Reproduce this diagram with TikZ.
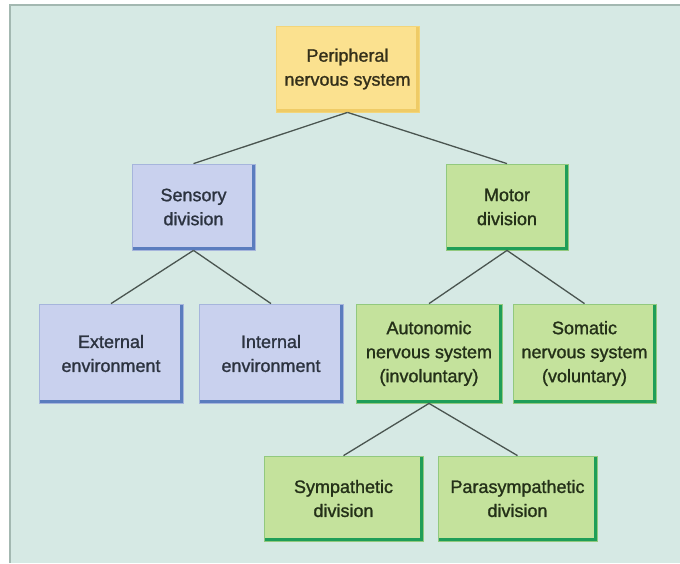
\documentclass[tikz,border=0pt]{standalone}
\usepackage{fontspec}
\setmainfont{Liberation Sans}
\newfontfamily\boxfont{Liberation Sans}[FakeBold=1.3]
\definecolor{bgc}{HTML}{D6E9E4}
\definecolor{frame}{HTML}{A3B8B1}
\definecolor{yfill}{HTML}{FBE18F}
\definecolor{yshad}{HTML}{EFCB66}
\definecolor{yedge}{HTML}{F3D579}
\definecolor{bfill}{HTML}{C9D1EE}
\definecolor{bshad}{HTML}{5B7DBE}
\definecolor{bedge}{HTML}{A6B5DC}
\definecolor{gfill}{HTML}{C4E29C}
\definecolor{gshad}{HTML}{1F9E58}
\definecolor{gedge}{HTML}{92C97E}
\definecolor{btext}{HTML}{2C3340}
\definecolor{gtext}{HTML}{243018}
\definecolor{ytext}{HTML}{342F1A}
\definecolor{conn}{HTML}{4A5550}
\tikzset{
  box/.style n args={4}{rectangle, inner sep=0pt, align=center,
    fill=#1, draw=#3, line width=0.8pt, text=#4,
    font=\boxfont\fontsize{18}{24}\selectfont,
    path picture={\draw[#2, line width=6pt]
      (path picture bounding box.north east) -- (path picture bounding box.south east)
      -- (path picture bounding box.south west);}},
  ybox/.style={box={yfill}{yshad}{yedge}{ytext}},
  bbox/.style={box={bfill}{bshad}{bedge}{btext}},
  gbox/.style={box={gfill}{gshad}{gedge}{gtext}},
  link/.style={draw=conn, line width=1.3pt},
}
\begin{document}
\begin{tikzpicture}[x=1pt,y=-1pt]
\useasboundingbox (0,0) rectangle (680,563);
\fill[white] (0,0) rectangle (680,563);
\fill[bgc] (9,4) rectangle (680,563);
\draw[frame, line width=1.5pt] (10,563) -- (10,5) -- (680,5);

\node[ybox, minimum width=143pt, minimum height=86pt] (P) at (347.5,69) {Peripheral\\nervous system};
\node[bbox, minimum width=123pt, minimum height=86pt] (S) at (193.5,207) {Sensory\\division};
\node[gbox, minimum width=122pt, minimum height=86pt] (M) at (507,207) {Motor\\division};
\node[bbox, minimum width=144pt, minimum height=99pt] (E) at (111,353.5) {External\\environment};
\node[bbox, minimum width=144pt, minimum height=99pt] (I) at (271,353.5) {Internal\\environment};
\node[gbox, minimum width=146pt, minimum height=99pt] (A) at (429,353.5) {Autonomic\\nervous system\\(involuntary)};
\node[gbox, minimum width=143pt, minimum height=99pt] (SO) at (584.5,353.5) {Somatic\\nervous system\\(voluntary)};
\node[gbox, minimum width=159pt, minimum height=85pt] (SY) at (343.5,498.5) {Sympathetic\\division};
\node[gbox, minimum width=159pt, minimum height=85pt] (PA) at (517.5,498.5) {Parasympathetic\\division};

\draw[link] (P.south) -- (S.north);
\draw[link] (P.south) -- (M.north);
\draw[link] (S.south) -- (E.north);
\draw[link] (S.south) -- (I.north);
\draw[link] (M.south) -- (A.north);
\draw[link] (M.south) -- (SO.north);
\draw[link] (A.south) -- (SY.north);
\draw[link] (A.south) -- (PA.north);
\end{tikzpicture}
\end{document}
